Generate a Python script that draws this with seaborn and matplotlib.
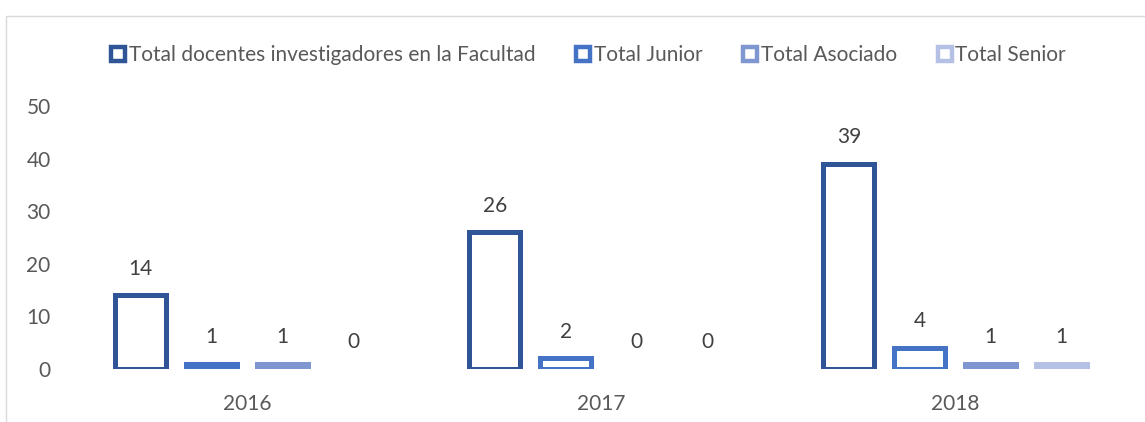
import matplotlib
matplotlib.use("Agg")
import matplotlib.pyplot as plt
import seaborn as sns
import pandas as pd
from matplotlib.patches import Rectangle
from matplotlib.lines import Line2D

years = ["2016", "2017", "2018"]
series = ["Total docentes investigadores en la Facultad", "Total Junior",
          "Total Asociado", "Total Senior"]
total_docentes = [14, 26, 39]
total_junior = [1, 2, 4]
total_asociado = [1, 0, 1]
total_senior = [0, 0, 1]
colors = ["#2F5597", "#4472C4", "#7F96D0", "#B4C1E4"]

vals = [total_docentes, total_junior, total_asociado, total_senior]
df = pd.DataFrame([(y, s, v[i]) for s, v in zip(series, vals) for i, y in enumerate(years)],
                  columns=["Año", "Serie", "Valor"])

sns.set_theme(style="white")
plt.rcParams['font.family'] = ['Lato', 'DejaVu Sans']
FS = 15.0

fig = plt.figure(figsize=(11.45, 4.22), dpi=100)
ax = fig.add_axes([70/1145, 53/422, 1062/1145, 263/422])

sns.barplot(data=df, x="Año", y="Valor", hue="Serie", hue_order=series,
            palette=colors, width=0.8, gap=0.28, ax=ax, legend=False,
            linewidth=3.6, saturation=1)

for cont, col in zip(ax.containers, colors):
    for p in cont.patches:
        p.set_facecolor("white")
        p.set_edgecolor(col)
        p.set_linewidth(3.6)
        p.set_joinstyle("miter")
        if p.get_height() == 0:
            p.set_linewidth(0)
    ax.bar_label(cont, padding=12, fontsize=FS, color="#404040")

ax.set_ylim(0, 50)
ax.set_xlim(-0.5, 2.5)
ax.set_yticks([0, 10, 20, 30, 40, 50])
ax.tick_params(axis="y", labelsize=FS, labelcolor="#595959", length=0, pad=14)
ax.tick_params(axis="x", labelsize=FS, labelcolor="#595959", length=0, pad=18)
ax.set_xlabel("")
ax.set_ylabel("")
for s in ax.spines.values():
    s.set_visible(False)

handles = [Line2D([0], [0], marker="s", linestyle="none", markersize=10,
                  markerfacecolor="white", markeredgecolor=c, markeredgewidth=3.2)
           for c in colors]
fig.legend(handles, series, loc="center", bbox_to_anchor=(587/1145, 1 - 55/422),
           ncol=4, frameon=False, fontsize=FS, labelcolor="#595959",
           handletextpad=0.0, columnspacing=1.8, handlelength=1.0)

fig.patches.append(Rectangle((6/1145, -0.1), 1.2, (1 - 16/422) + 0.1,
                             transform=fig.transFigure, fill=False,
                             edgecolor="#D9D9D9", linewidth=1.0))

fig.savefig("out.png", dpi=100)
